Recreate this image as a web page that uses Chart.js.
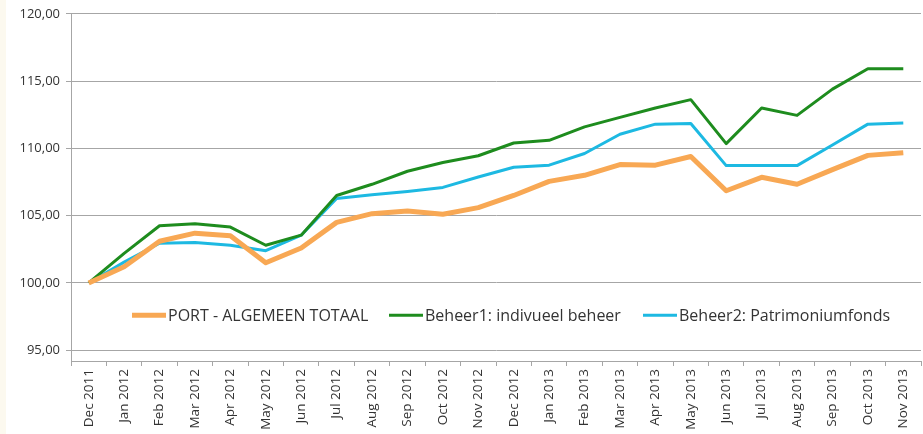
<!DOCTYPE html>
<html>
<head>
<meta charset="utf-8">
<script src="https://cdn.jsdelivr.net/npm/chart.js@4/dist/chart.umd.min.js"></script>
<style>
  html, body { margin: 0; padding: 0; background: #fff; }
  #wrap { position: relative; width: 923px; height: 434px; border-left: 6px solid #fcf9ef; box-sizing: border-box; }
</style>
</head>
<body>
<div id="wrap"><canvas id="myChart" width="917" height="434"></canvas></div>
<script>
// categorieën en reeksen
const maanden = ['Dec 2011', 'Jan 2012', 'Feb 2012', 'Mar 2012', 'Apr 2012', 'May 2012', 'Jun 2012',
    'Jul 2012', 'Aug 2012', 'Sep 2012', 'Oct 2012', 'Nov 2012', 'Dec 2012', 'Jan 2013', 'Feb 2013',
    'Mar 2013', 'Apr 2013', 'May 2013', 'Jun 2013', 'Jul 2013', 'Aug 2013', 'Sep 2013', 'Oct 2013', 'Nov 2013'];
const portTotaal = [100.0, 101.2, 103.1, 103.7, 103.5, 101.5, 102.6, 104.5, 105.15, 105.35, 105.1, 105.6,
    106.5, 107.55, 108.0, 108.8, 108.75, 109.4, 106.85, 107.85, 107.33, 108.42, 109.48, 109.68];
const beheer1 = [100.0, 102.2, 104.25, 104.4, 104.15, 102.8, 103.55, 106.5, 107.33, 108.3, 108.95, 109.45,
    110.4, 110.6, 111.6, 112.3, 113.0, 113.62, 110.35, 113.0, 112.45, 114.4, 115.92, 115.92];
const beheer2 = [100.0, 101.55, 102.95, 103.0, 102.8, 102.4, 103.55, 106.27, 106.55, 106.8, 107.1, 107.87,
    108.6, 108.75, 109.62, 111.05, 111.8, 111.85, 108.72, 108.72, 108.72, 110.25, 111.8, 111.88];
const yTicks = [95, 100, 105, 110, 115, 120];
const reeksNamen = ['PORT - ALGEMEEN TOTAAL', 'Beheer1: indivueel beheer', 'Beheer2: Patrimoniumfonds'];

const kleuren = ['#f8a854', '#1e8c1e', '#1db9e2'];
const dikte = [5, 3, 3];

// legenda binnen het plotgebied tekenen
const legendInPlot = {
    id: 'legendInPlot',
    afterDraw(chart) {
        const ctx = chart.ctx;
        const y = chart.scales.y.getPixelForValue(97.6);
        const startX = [126, 383, 637];
        ctx.save();
        ctx.font = '16px "Open Sans", sans-serif';
        ctx.textBaseline = 'middle';
        ctx.fillStyle = '#333';
        chart.data.datasets.forEach(function(ds, i) {
            ctx.strokeStyle = ds.borderColor;
            ctx.lineWidth = ds.borderWidth;
            ctx.lineCap = 'butt';
            ctx.beginPath();
            ctx.moveTo(startX[i], y);
            ctx.lineTo(startX[i] + 34, y);
            ctx.stroke();
            ctx.fillText(ds.label, startX[i] + 36, y + 1);
        });
        ctx.restore();
    }
};

const ctx = document.getElementById('myChart').getContext('2d');
const myChart = new Chart(ctx, {
    type: 'line',
    data: {
        labels: maanden,
        datasets: [portTotaal, beheer1, beheer2].map(function(d, i) {
            return {
                label: reeksNamen[i],
                data: d,
                borderColor: kleuren[i],
                backgroundColor: kleuren[i],
                borderWidth: dikte[i],
                pointRadius: 0,
                tension: 0,
                borderJoinStyle: 'round'
            };
        })
    },
    options: {
        responsive: false,
        animation: false,
        layout: { padding: { top: 13, right: 2, left: 0, bottom: 0 } },
        plugins: {
            legend: { display: false },
            tooltip: { enabled: false }
        },
        scales: {
            x: {
                offset: true,
                grid: {
                    display: true,
                    offset: true,
                    drawOnChartArea: false,
                    drawTicks: true,
                    tickLength: 5,
                    color: '#a6a6a6'
                },
                border: { color: '#a6a6a6' },
                ticks: {
                    autoSkip: false,
                    minRotation: 90,
                    maxRotation: 90,
                    color: '#333',
                    padding: 3,
                    font: { family: 'Open Sans', size: 13.5 }
                },
                afterFit: function(scale) { scale.height = 73; }
            },
            y: {
                min: 94.2,
                max: 120,
                afterBuildTicks: function(scale) {
                    scale.ticks = yTicks.map(function(v) { return { value: v }; });
                },
                grid: {
                    color: '#a6a6a6',
                    tickLength: 5
                },
                border: { color: '#a6a6a6' },
                ticks: {
                    color: '#333',
                    padding: 6,
                    font: { family: 'Open Sans', size: 13 },
                    callback: function(v) { return v.toFixed(2).replace('.', ','); }
                },
                afterFit: function(scale) { scale.width = 65; }
            }
        }
    },
    plugins: [legendInPlot]
});
</script>
</body>
</html>
